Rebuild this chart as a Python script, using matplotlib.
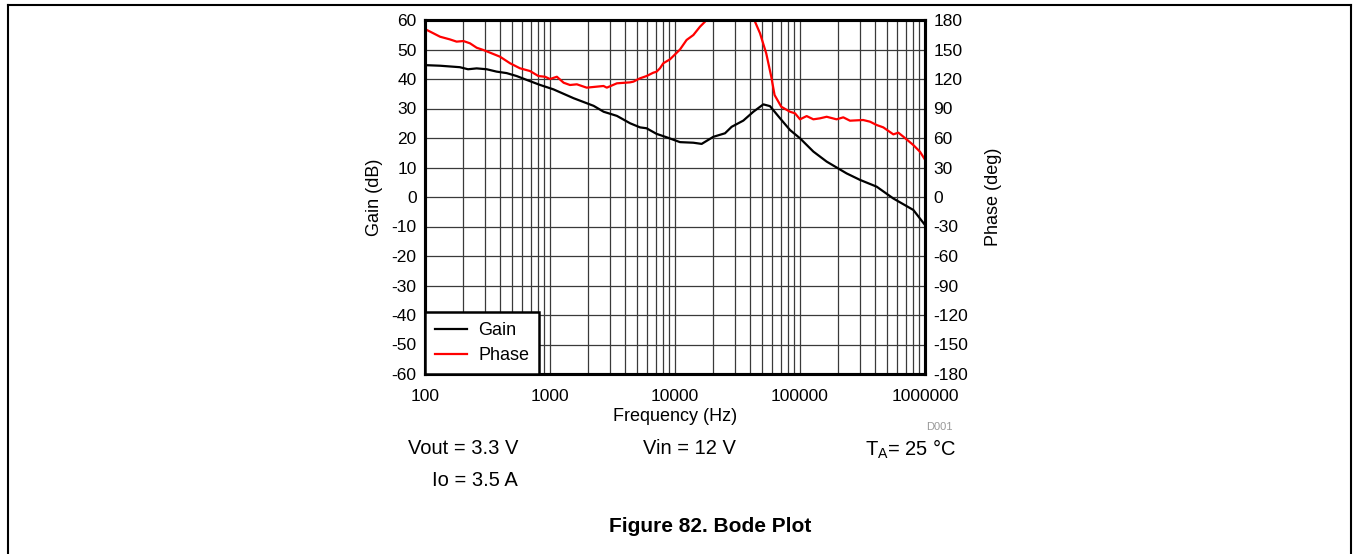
import matplotlib
matplotlib.use("Agg")
import matplotlib.pyplot as plt
from matplotlib.lines import Line2D
from matplotlib.ticker import FixedLocator, NullFormatter, LogLocator

plt.rcParams['font.family'] = ['Liberation Sans', 'DejaVu Sans']
plt.rcParams['mathtext.fontset'] = 'custom'
plt.rcParams['mathtext.rm'] = 'Liberation Sans'
plt.rcParams['mathtext.it'] = 'Liberation Sans'
plt.rcParams['axes.unicode_minus'] = False

# ---- data ----
gain_freq = [100, 132, 190, 221, 259, 312, 374, 450, 541, 650, 831, 1064, 1542,
             2234, 2686, 3428, 4370, 5250, 5920, 7120, 8500, 10960, 14020, 16340,
             20260, 25120, 28400, 35200, 42350, 50900, 57540, 69180, 83200, 100000,
             127900, 163400, 236000, 302000, 410600, 558000, 807000, 1000000]
gain_db = [44.7, 44.5, 44.0, 43.3, 43.6, 43.3, 42.5, 42.0, 41.0, 39.7, 38.0, 36.5, 33.5,
           30.9, 28.9, 27.5, 25.0, 23.6, 23.3, 21.4, 20.3, 18.6, 18.4, 18.0,
           20.4, 21.6, 23.8, 25.9, 28.9, 31.4, 30.8, 26.7, 22.7, 19.9,
           15.4, 12.0, 8.0, 5.8, 3.5, -0.5, -4.4, -9.5]

phase_freq = [100, 116.6, 132, 158, 179, 203, 229, 259, 293, 331, 398, 479, 575, 692,
              808, 912, 1000, 1135, 1286, 1445, 1640, 1965, 2359, 2680, 2847, 3428,
              4370, 4645, 5250, 5920, 6700, 7120, 7590, 8060, 9120, 10960, 12380,
              14020, 15850, 17380, 20000, 25000, 32000, 38000, 43650, 47860, 53700,
              58900, 62600, 70800, 83180, 91200, 100000, 113000, 127900, 144500,
              163400, 196000, 222000, 251000, 320000, 363000, 410600, 464000,
              558000, 612000, 672000, 807000, 912000, 1000000]
phase_deg = [170.8, 166.5, 163, 160.3, 158, 158.6, 156.3, 151.8, 149.5, 146.8, 142.7,
             136, 130.9, 128.1, 123, 122.3, 120, 122.3, 116.2, 113.9, 114.6, 111.2,
             112.2, 112.9, 111.2, 115.6, 116.6, 117.3, 120.7, 123, 126.4, 127.4, 131,
             136, 140, 150, 159.7, 164.7, 173.2, 178.3, 192, 205, 208, 198, 178.3,
             166.5, 146, 122.3, 103.7, 91.8, 86.7, 85.1, 79, 82.3, 79, 80, 81.6, 79,
             81, 77.6, 78.3, 76.6, 73.2, 70.8, 63.7, 65.4, 61.3, 52.8, 46, 38]

gain_ticks = list(range(-60, 61, 10))
phase_ticks = list(range(-180, 181, 30))
freq_ticks = [100, 1000, 10000, 100000, 1000000]
freq_labels = ['100', '1000', '10000', '100000', '1000000']

W, H = 1353, 554
fig = plt.figure(figsize=(W / 100, H / 100), dpi=100)

# outer frame (top, left, right)
fig.add_artist(Line2D([8 / W, 8 / W], [0, 1 - 5 / H], transform=fig.transFigure, color='black', lw=1.5))
fig.add_artist(Line2D([8 / W, 1351 / W], [1 - 5 / H, 1 - 5 / H], transform=fig.transFigure, color='black', lw=1.5))
fig.add_artist(Line2D([1351 / W, 1351 / W], [0, 1 - 5 / H], transform=fig.transFigure, color='black', lw=1.5))

L, R, T, B = 425, 925, 20, 374
ax = fig.add_axes([L / W, 1 - B / H, (R - L) / W, (B - T) / H])
ax2 = ax.twinx()

ax.set_xscale('log')
ax.set_xlim(100, 1e6)
ax.set_ylim(-60, 60)
ax2.set_ylim(-180, 180)

ax.xaxis.set_major_locator(FixedLocator(freq_ticks))
ax.set_xticklabels(freq_labels)
ax.xaxis.set_minor_locator(LogLocator(base=10, subs=range(2, 10), numticks=50))
ax.xaxis.set_minor_formatter(NullFormatter())
ax.set_yticks(gain_ticks)
ax2.set_yticks(phase_ticks)

ax.grid(True, which='both', axis='x', color='#3a3a3a', lw=0.9)
ax.grid(True, which='major', axis='y', color='#3a3a3a', lw=0.9)
ax.set_axisbelow(True)

ax.tick_params(axis='y', which='both', length=0, labelsize=12.5, pad=6)
ax.tick_params(axis='x', which='both', length=0, labelsize=12.5, pad=11)
ax2.tick_params(axis='y', which='both', length=0, labelsize=12.5, pad=6)

for a in (ax, ax2):
    for s in a.spines.values():
        s.set_linewidth(2.2)
        s.set_color('black')

lg, = ax.plot(gain_freq, gain_db, color='black', lw=1.6, label='Gain')
lp, = ax2.plot(phase_freq, phase_deg, color='#ff0000', lw=1.6, label='Phase')

ax.set_ylabel('Gain (dB)', fontsize=13, labelpad=6)
ax2.set_ylabel('Phase (deg)', fontsize=13, labelpad=12)
ax.set_xlabel('Frequency (Hz)', fontsize=13, labelpad=3)

leg = ax2.legend(handles=[lg, lp], loc='lower left', borderaxespad=0, fancybox=False,
                 framealpha=1, edgecolor='black', fontsize=13, handlelength=1.8,
                 handletextpad=0.6, borderpad=0.55, labelspacing=0.45)
leg.get_frame().set_linewidth(1.8)

def px(x, y):
    return x / W, 1 - y / H

fig.text(*px(953, 427), 'D001', fontsize=8, color='#999999', ha='right', va='center')
fig.text(*px(518, 449), 'Vout = 3.3 V', fontsize=14.5, ha='right', va='center')
fig.text(*px(518, 480), 'Io = 3.5 A', fontsize=14.5, ha='right', va='center')
fig.text(*px(689, 449), 'Vin = 12 V', fontsize=14.5, ha='center', va='center')
fig.text(*px(957, 449), r'T$_\mathregular{A}$= 25 °C', fontsize=14.5, ha='right', va='center')
fig.text(*px(710, 527), 'Figure 82. Bode Plot', fontsize=15, fontweight='bold', ha='center', va='center')

fig.savefig('out.png', dpi=100)
